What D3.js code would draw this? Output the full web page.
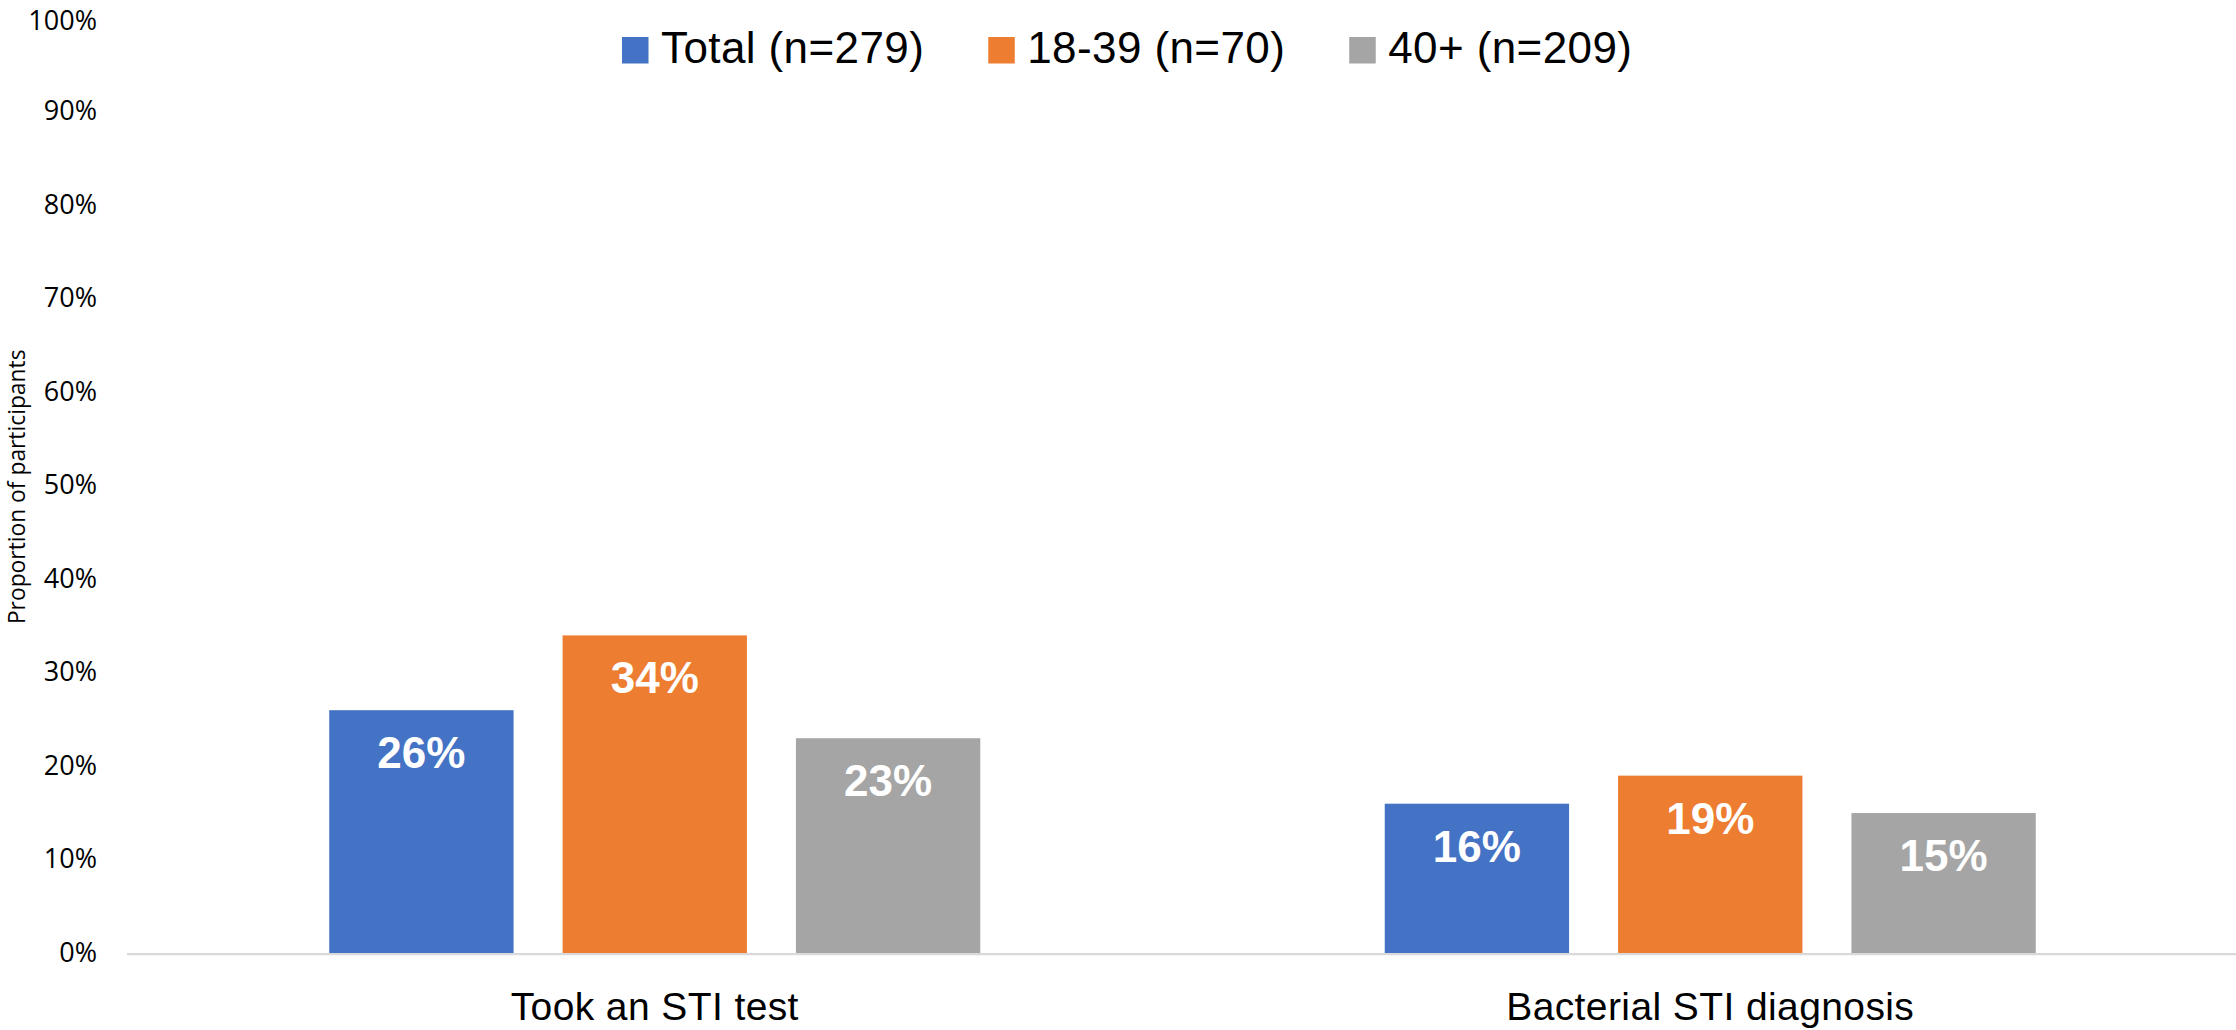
<!DOCTYPE html>
<html>
<head>
<meta charset="utf-8">
<script src="https://cdn.jsdelivr.net/npm/d3@7"></script>
<style>
  html, body { margin: 0; padding: 0; background: #ffffff; }
  svg { display: block; }
</style>
</head>
<body>
<svg id="chart" width="2236" height="1030"></svg>
<script>
// ---- data ----
const categories = ["Took an STI test", "Bacterial STI diagnosis"];
const seriesNames = ["Total (n=279)", "18-39 (n=70)", "40+ (n=209)"];
const totalValues = [0.26, 0.16];
const age1839Values = [0.34, 0.19];
const age40Values = [0.23, 0.15];
const seriesColors = ["#4472C4", "#ED7D31", "#A5A5A5"];
const yTicks = [0, 0.1, 0.2, 0.3, 0.4, 0.5, 0.6, 0.7, 0.8, 0.9, 1.0];
const yTitle = "Proportion of participants";

const seriesValues = [totalValues, age1839Values, age40Values];
const rows = categories.map((c, i) => ({
  category: c,
  values: seriesNames.map((s, j) => ({ series: s, idx: j, value: seriesValues[j][i] }))
}));

// ---- layout ----
const svg = d3.select("#chart");
const plotLeft = 127, plotRight = 2238, plotTop = 18.3, plotBottom = 953.3;

const x0 = d3.scaleBand()
  .domain(categories)
  .range([plotLeft, plotRight])
  .paddingInner(0.3832)
  .paddingOuter(0.1916);

const x1 = d3.scaleBand()
  .domain(seriesNames)
  .range([0, x0.bandwidth()])
  .paddingInner(0.21)
  .paddingOuter(0);

const y = d3.scaleLinear().domain([0, 1]).range([plotBottom, plotTop]);
const color = d3.scaleOrdinal().domain(seriesNames).range(seriesColors);

// ---- y axis ----
const yAxis = d3.axisLeft(y)
  .tickValues(yTicks)
  .tickFormat(d3.format(".0%"))
  .tickSize(0)
  .tickPadding(0);

const yg = svg.append("g")
  .attr("transform", "translate(97,0)")
  .call(yAxis);
yg.select(".domain").remove();
yg.selectAll("text")
  .attr("font-family", "'Open Sans', sans-serif")
  .attr("font-size", 27)
  .attr("fill", "#000")
  .attr("dy", d => Math.max(y(d) + 8.1, 29.5) - y(d))
  .attr("x", 0)
  .attr("text-anchor", "end");

// y title
svg.append("text")
  .attr("transform", `translate(25,${(plotTop + plotBottom) / 2 + 1}) rotate(-90)`)
  .attr("text-anchor", "middle")
  .attr("font-family", "'Open Sans', sans-serif")
  .attr("font-size", 22.8)
  .attr("fill", "#000")
  .text(yTitle);

// ---- bars ----
const groups = svg.append("g").selectAll("g")
  .data(rows)
  .join("g")
  .attr("transform", d => `translate(${x0(d.category)},0)`);

groups.selectAll("rect")
  .data(d => d.values)
  .join("rect")
  .attr("x", d => x1(d.series))
  .attr("y", d => y(d.value))
  .attr("width", x1.bandwidth())
  .attr("height", d => y(0) - y(d.value))
  .attr("fill", d => color(d.series));

groups.selectAll("text.lbl")
  .data(d => d.values)
  .join("text")
  .attr("class", "lbl")
  .attr("x", d => x1(d.series) + x1.bandwidth() / 2)
  .attr("y", d => y(d.value) + 58)
  .attr("text-anchor", "middle")
  .attr("font-family", "'Liberation Sans', Arial, sans-serif")
  .attr("font-weight", "bold")
  .attr("font-size", 44)
  .attr("fill", "#ffffff")
  .text(d => d3.format(".0%")(d.value));

// ---- x axis ----
svg.append("line")
  .attr("x1", plotLeft)
  .attr("x2", 2236)
  .attr("y1", plotBottom + 0.8)
  .attr("y2", plotBottom + 0.8)
  .attr("stroke", "#D9D9D9")
  .attr("stroke-width", 2.25);

const xAxis = d3.axisBottom(x0).tickSize(0).tickPadding(0);
const xg = svg.append("g")
  .attr("transform", `translate(0,${plotBottom})`)
  .call(xAxis);
xg.select(".domain").remove();
xg.selectAll("text")
  .attr("font-family", "'Liberation Sans', Arial, sans-serif")
  .attr("font-size", 39)
  .attr("letter-spacing", 0.4)
  .attr("fill", "#000")
  .attr("y", 0)
  .attr("dy", 0)
  .attr("transform", "translate(0,67)");

// ---- legend ----
const legend = svg.append("g");
let lx = 622;
seriesNames.forEach((s, i) => {
  legend.append("rect")
    .attr("x", lx)
    .attr("y", 37)
    .attr("width", 26.5)
    .attr("height", 26.5)
    .attr("fill", color(s));
  const t = legend.append("text")
    .attr("x", lx + 39)
    .attr("y", 63.3)
    .attr("font-family", "'Liberation Sans', Arial, sans-serif")
    .attr("font-size", 44)
    .attr("letter-spacing", 0.4)
    .attr("fill", "#000")
    .text(s);
  lx = lx + 39 + t.node().getComputedTextLength() + 64;
});
</script>
</body>
</html>
